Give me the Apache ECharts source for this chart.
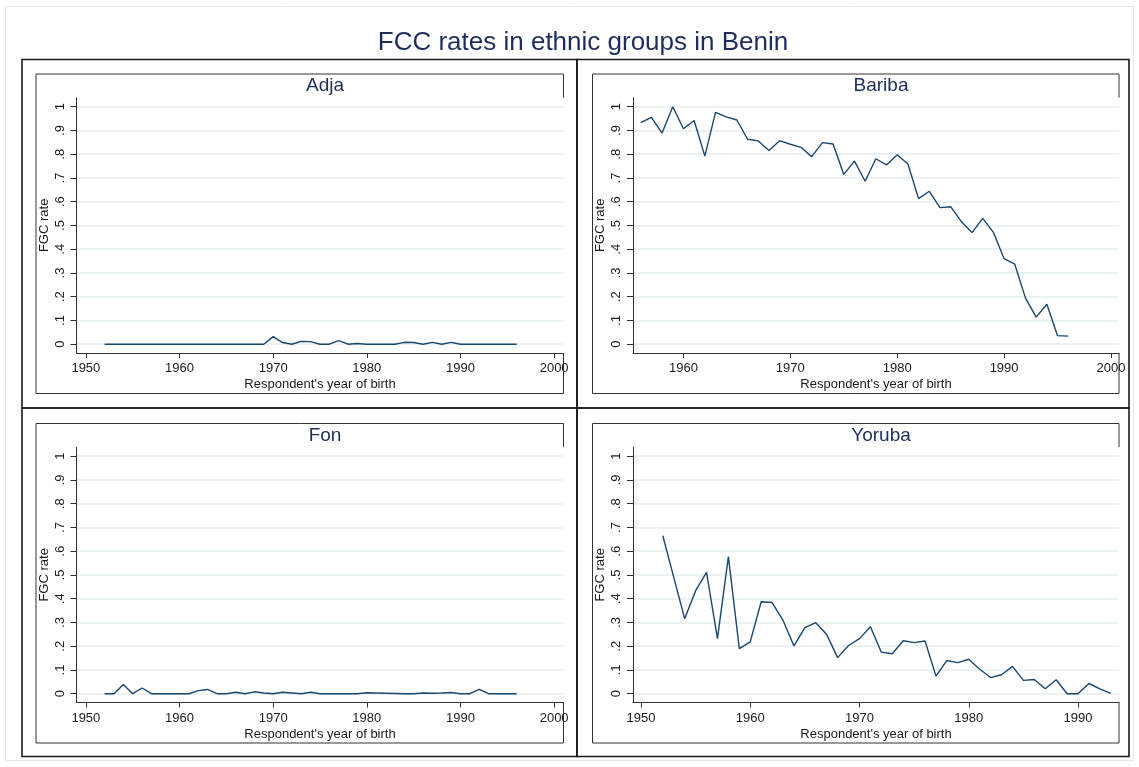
<!DOCTYPE html>
<html>
<head>
<meta charset="utf-8">
<title>FCC rates in ethnic groups in Benin</title>
<script src="https://cdn.jsdelivr.net/npm/echarts@6/dist/echarts.min.js"></script>
<style>
  html, body { margin: 0; padding: 0; background: #fff; }
  #chart { width: 1139px; height: 767px; }
</style>
</head>
<body>
<div id="chart"></div>
<script>
// panel names
const groups = ['Adja', 'Bariba', 'Fon', 'Yoruba']

// years of birth for each group
const adjaYears = [1952, 1953, 1954, 1955, 1956, 1957, 1958, 1959, 1960, 1961, 1962, 1963, 1964, 1965, 1966,
  1967, 1968, 1969, 1970, 1971, 1972, 1973, 1974, 1975, 1976, 1977, 1978, 1979, 1980, 1981, 1982, 1983,
  1984, 1985, 1986, 1987, 1988, 1989, 1990, 1991, 1992, 1993, 1994, 1995, 1996]
const baribaYears = [1956, 1957, 1958, 1959, 1960, 1961, 1962, 1963, 1964, 1965, 1966, 1967, 1968, 1969,
  1970, 1971, 1972, 1973, 1974, 1975, 1976, 1977, 1978, 1979, 1980, 1981, 1982, 1983, 1984, 1985, 1986,
  1987, 1988, 1989, 1990, 1991, 1992, 1993, 1994, 1995, 1996]
const fonYears = [1952, 1953, 1954, 1955, 1956, 1957, 1958, 1959, 1960, 1961, 1962, 1963, 1964, 1965, 1966,
  1967, 1968, 1969, 1970, 1971, 1972, 1973, 1974, 1975, 1976, 1977, 1978, 1979, 1980, 1981, 1982, 1983,
  1984, 1985, 1986, 1987, 1988, 1989, 1990, 1991, 1992, 1993, 1994, 1995, 1996]
const yorubaYears = [1952, 1953, 1954, 1955, 1956, 1957, 1958, 1959, 1960, 1961, 1962, 1963, 1964, 1965,
  1966, 1967, 1968, 1969, 1970, 1971, 1972, 1973, 1974, 1975, 1976, 1977, 1978, 1979, 1980, 1981, 1982,
  1983, 1984, 1985, 1986, 1987, 1988, 1989, 1990, 1991, 1992, 1993]

// FGC rate by year of birth
const adjaRate = [0, 0, 0, 0, 0, 0, 0, 0, 0, 0, 0, 0, 0, 0, 0, 0, 0, 0,
  0.032, 0.007, 0, 0.012, 0.011, 0, 0, 0.015, 0, 0.003, 0, 0, 0, 0, 0.008, 0.007, 0, 0.008, 0, 0.008,
  0, 0, 0, 0, 0, 0, 0]
const baribaRate = [0.933, 0.955, 0.889, 1.0, 0.907, 0.942, 0.792, 0.976, 0.957, 0.944, 0.863, 0.856,
  0.816, 0.857, 0.842, 0.829, 0.790, 0.849, 0.843, 0.715, 0.771, 0.686, 0.781, 0.755, 0.798, 0.759,
  0.613, 0.644, 0.575, 0.579, 0.516, 0.470, 0.530, 0.471, 0.360, 0.337, 0.194, 0.114, 0.168, 0.036, 0.034]
const fonRate = [0, 0, 0.039, 0, 0.024, 0, 0, 0, 0, 0, 0.013, 0.018, 0, 0, 0.006, 0, 0.008, 0.003, 0,
  0.006, 0.003, 0, 0.006, 0, 0, 0, 0, 0, 0.004, 0.003, 0.002, 0.001, 0, 0, 0.003, 0.002, 0.003, 0.005,
  0, 0, 0.018, 0, 0, 0, 0]
const yorubaRate = [0.665, 0.49, 0.316, 0.434, 0.511, 0.232, 0.577, 0.190, 0.218, 0.387, 0.384, 0.309,
  0.201, 0.278, 0.299, 0.249, 0.152, 0.203, 0.232, 0.282, 0.175, 0.168, 0.223, 0.215, 0.222, 0.074,
  0.140, 0.131, 0.145, 0.103, 0.068, 0.080, 0.115, 0.056, 0.060, 0.021, 0.059, 0.0, 0.0, 0.043, 0.020, 0.001]

// tick labels
const yTicks = [0, 0.1, 0.2, 0.3, 0.4, 0.5, 0.6, 0.7, 0.8, 0.9, 1]
const yTickText = ['0', '.1', '.2', '.3', '.4', '.5', '.6', '.7', '.8', '.9', '1']
const xTicksWide = [1950, 1960, 1970, 1980, 1990, 2000]
const xTicksBariba = [1960, 1970, 1980, 1990, 2000]
const xTicksYoruba = [1950, 1960, 1970, 1980, 1990]

const navy = '#1a476f'
const titleColor = '#1f2d5c'
const textColor = '#1a1a1a'
const gridColor = '#e6eef0'
const font = 'Liberation Sans, Arial, sans-serif'

// panel layout: plot region in pixels, outer box, x range
const panels = [
  { left: 76.5, top: 97.7, width: 487, height: 255.3, ox: 22, oy: 59.5, ow: 555, xMin: 1949, xMax: 2001, ticks: xTicksWide },
  { left: 633, top: 97.7, width: 486, height: 255.3, ox: 577, oy: 59.5, ow: 552, xMin: 1955.28, xMax: 2000.75, ticks: xTicksBariba },
  { left: 76.5, top: 447.2, width: 487, height: 255.3, ox: 22, oy: 408, ow: 555, xMin: 1949, xMax: 2001, ticks: xTicksWide },
  { left: 633, top: 447.2, width: 486, height: 255.3, ox: 577, oy: 408, ow: 552, xMin: 1949.27, xMax: 1993.75, ticks: xTicksYoruba }
]
const seriesData = [
  [adjaYears, adjaRate],
  [baribaYears, baribaRate],
  [fonYears, fonRate],
  [yorubaYears, yorubaRate]
]

function pairs (xs, ys) {
  return xs.map((x, i) => [x, ys[i]])
}

let grids = []
let xAxes = []
let yAxes = []
let series = []
let titles = [{
  text: 'FCC rates in ethnic groups in Benin',
  left: 578,
  top: 25,
  textAlign: 'center',
  textStyle: { fontFamily: font, fontSize: 26, fontWeight: 'normal', color: titleColor }
}]
let graphics = [
  { type: 'rect', shape: { x: 5.5, y: 6.5, width: 1128, height: 754 }, style: { fill: 'none', stroke: '#e2e8eb', lineWidth: 1 }, z: 0 }
]

panels.forEach((p, i) => {
  grids.push({ left: p.left, top: p.top, width: p.width, height: p.height, show: false })
  xAxes.push({
    type: 'value',
    gridIndex: i,
    min: p.xMin,
    max: p.xMax,
    name: "Respondent's year of birth",
    nameLocation: 'middle',
    nameGap: 25,
    nameTextStyle: { fontFamily: font, fontSize: 13, color: textColor },
    axisLine: { show: true, onZero: false, lineStyle: { color: '#333', width: 1 } },
    axisTick: { show: true, length: 5, customValues: p.ticks, lineStyle: { color: '#333' } },
    axisLabel: {
      customValues: p.ticks,
      margin: 9,
      fontFamily: font,
      fontSize: 13,
      color: textColor,
      formatter: (v) => String(v)
    },
    splitLine: { show: false }
  })
  yAxes.push({
    type: 'value',
    gridIndex: i,
    min: -0.037,
    max: 1.038,
    name: 'FGC rate',
    nameLocation: 'middle',
    nameGap: 26,
    nameRotate: 90,
    nameTextStyle: { fontFamily: font, fontSize: 13, color: textColor },
    axisLine: { show: true, lineStyle: { color: '#333', width: 1 } },
    axisTick: { show: true, length: 6, customValues: yTicks, lineStyle: { color: '#333' } },
    axisLabel: {
      customValues: yTicks,
      rotate: 90,
      margin: 10,
      fontFamily: font,
      fontSize: 13,
      color: textColor,
      formatter: (v) => yTickText[yTicks.findIndex(t => Math.abs(t - v) < 1e-6)]
    },
    splitLine: { show: true, lineStyle: { color: gridColor, width: 1.5 } }
  })
  series.push({
    type: 'line',
    name: groups[i],
    xAxisIndex: i,
    yAxisIndex: i,
    data: pairs(seriesData[i][0], seriesData[i][1]),
    showSymbol: false,
    lineStyle: { color: navy, width: 1.4 },
    itemStyle: { color: navy },
    animation: false
  })
  titles.push({
    text: groups[i],
    left: p.left + p.width / 2,
    top: p.top - 26,
    textAlign: 'center',
    textStyle: { fontFamily: font, fontSize: 19, fontWeight: 'normal', color: titleColor }
  })

  // outer panel box and inner box (right side hidden behind the plot region)
  graphics.push({ type: 'rect', shape: { x: p.ox, y: p.oy, width: p.ow, height: 348.5 }, style: { fill: 'none', stroke: '#1a1a1a', lineWidth: 1.6 }, z: 1 })
  let bx0 = p.left - 40.5
  let bx1 = p.left + p.width
  let by0 = p.top - 23.7
  let by1 = p.top + p.height + 40.5
  let axisY = p.top + p.height
  graphics.push({
    type: 'polyline',
    shape: { points: [[bx1, p.top], [bx1, by0], [bx0, by0], [bx0, by1], [bx1, by1], [bx1, axisY]] },
    style: { fill: 'none', stroke: '#333', lineWidth: 1 },
    z: 1
  })
})

let option = {
  backgroundColor: '#fff',
  animation: false,
  title: titles,
  grid: grids,
  xAxis: xAxes,
  yAxis: yAxes,
  series: series,
  graphic: graphics
}

let chart = echarts.init(document.getElementById('chart'), null, { renderer: 'canvas' })
chart.setOption(option)
</script>
</body>
</html>
